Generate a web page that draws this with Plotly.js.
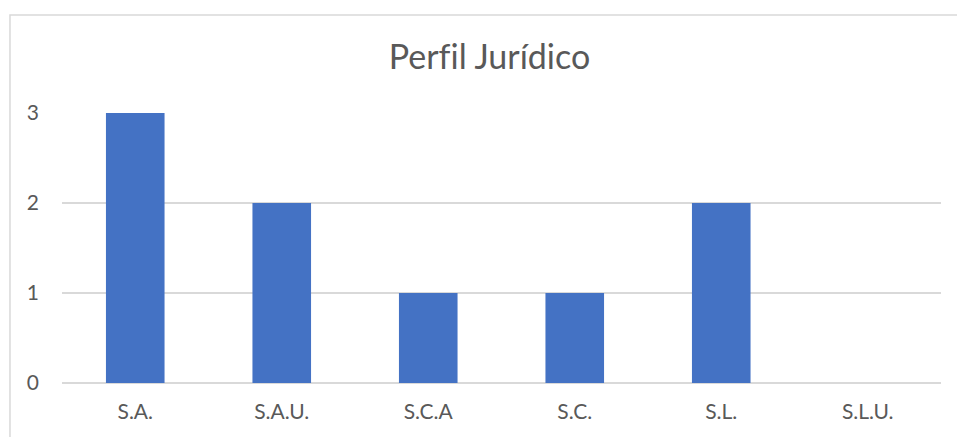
<!DOCTYPE html>
<html><head><meta charset="utf-8">
<script src="https://cdn.plot.ly/plotly-3.0.1.min.js"></script>
<style>html,body{margin:0;padding:0;background:#fff;}#chart{width:957px;height:437px;}
#chart text{font-variant-ligatures:none;font-feature-settings:"liga" 0;}</style>
</head><body><div id="chart"></div>
<script>
var categories = ["S.A.", "S.A.U.", "S.C.A", "S.C.", "S.L.", "S.L.U."];
var counts = [3, 2, 1, 1, 2, 0];
var yTicks = [0, 1, 2, 3];
var titleText = "Perfil Jurídico";

var FONT = "Lato, 'Noto Sans', sans-serif";
var grid = "#d9d9d9";
var text = "#595959";

var trace = {
  type: "bar", x: categories, y: counts,
  marker: {color: "#4472C4"},
  hoverinfo: "x+y"
};
var layout = {
  width: 957, height: 437,
  margin: {l: 62, r: 16, t: 113, b: 54, pad: 0},
  paper_bgcolor: "#fff", plot_bgcolor: "#fff",
  bargap: 0.6,
  showlegend: false,
  title: {text: titleText, font: {family: FONT, size: 34, color: text},
          x: 489.5 / 957, xanchor: "center", xref: "container",
          y: 1 - 57/437, yanchor: "middle"},
  xaxis: {type: "category", showgrid: false, zeroline: false, showline: false,
          ticks: "", ticklabelstandoff: 14,
          tickfont: {family: FONT, size: 21, color: text}},
  yaxis: {range: [0, 3], tickvals: yTicks, showgrid: true, gridcolor: grid, gridwidth: 1.5,
          zeroline: true, zerolinecolor: grid, zerolinewidth: 1.5, showline: false,
          ticks: "", ticklabelstandoff: 22,
          tickfont: {family: FONT, size: 21, color: text}},
  shapes: [{type: "rect", xref: "paper", yref: "paper",
            x0: (10 - 62) / 878.7, x1: 1.2, y0: -0.5, y1: 1 + (113 - 15) / 269.7,
            line: {color: grid, width: 1.5}, fillcolor: "rgba(0,0,0,0)", layer: "below"}]
};
Plotly.newPlot("chart", [trace], layout, {displayModeBar: false, staticPlot: true});
</script></body></html>
